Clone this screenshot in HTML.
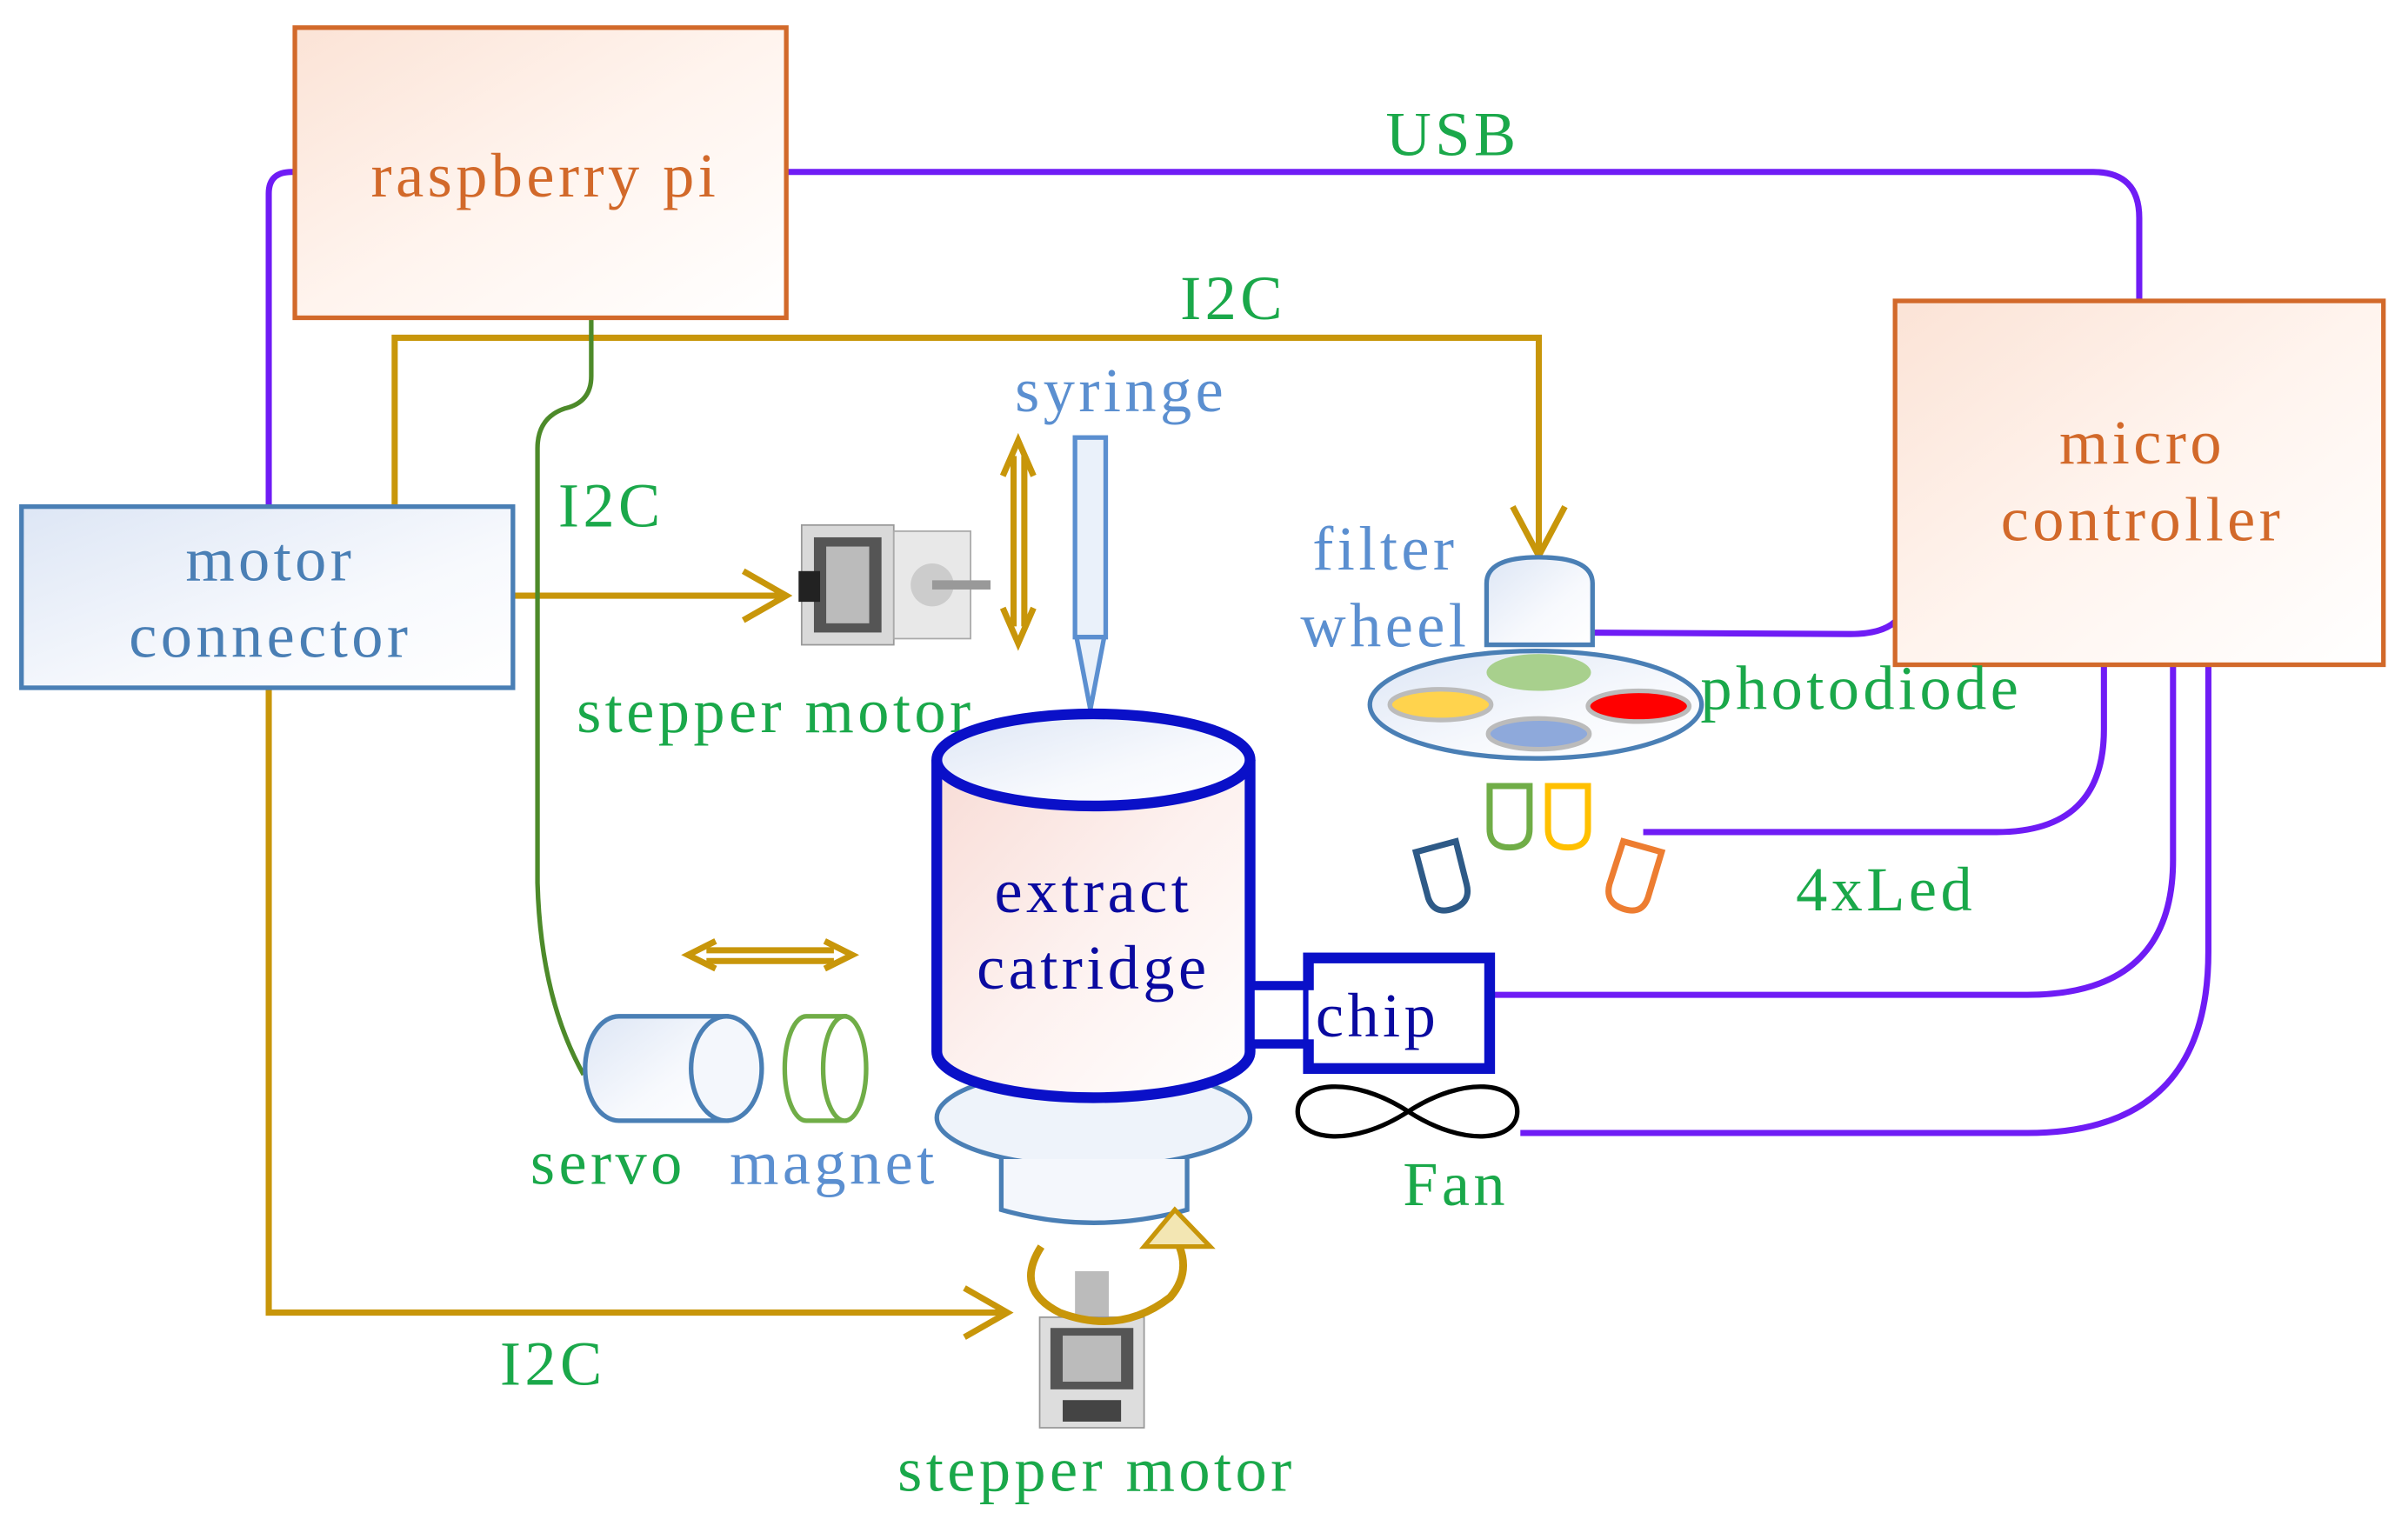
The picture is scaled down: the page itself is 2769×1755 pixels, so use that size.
<!DOCTYPE html>
<html><head><meta charset="utf-8"><style>
html,body{margin:0;padding:0;background:#fff;}
svg{display:block;}
text{font-family:"Liberation Serif",serif;font-size:41px;letter-spacing:2.5px;text-anchor:middle;}
</style></head><body>
<svg width="2769" height="1755" viewBox="0 0 1568 994" preserveAspectRatio="none" xmlns="http://www.w3.org/2000/svg">
<defs>
<linearGradient id="go" x1="0" y1="0" x2="1" y2="1"><stop offset="0" stop-color="#fbe3d6"/><stop offset="0.5" stop-color="#fff4ee"/><stop offset="1" stop-color="#fff"/></linearGradient>
<linearGradient id="gb" x1="0" y1="0" x2="1" y2="1"><stop offset="0" stop-color="#dde6f5"/><stop offset="0.6" stop-color="#f7f9fd"/><stop offset="1" stop-color="#fff"/></linearGradient>
<linearGradient id="gc" x1="0" y1="0" x2="1" y2="1"><stop offset="0" stop-color="#f8dcd6"/><stop offset="0.5" stop-color="#fdf1ef"/><stop offset="1" stop-color="#fff"/></linearGradient>
</defs>
<rect width="1568" height="994" fill="#fff"/>
<g fill="none" stroke="#6f1cf5" stroke-width="4">
<path d="M175 330 V126 Q175 112 190 112 H192"/>
<path d="M512 112 H1363 Q1393 112 1393 142 V196"/>
<path d="M1234 405 Q1225 413 1205 413 L1022 412"/>
<path d="M1370 433 V475 Q1370 542 1300 542 H1070"/>
<path d="M1415 433 V560 Q1415 648 1320 648 H970"/>
<path d="M1438 433 V620 Q1438 738 1320 738 H990"/>
</g>
<g fill="none" stroke="#c8960a" stroke-width="4">
<path d="M257 330 V220 H1002 V360"/>
<path d="M985 330 L1002 362 L1019 330"/>
<path d="M334 388 H510"/>
<path d="M484 372 L512 388 L484 404"/>
<path d="M175 448 V855 H655"/>
<path d="M628 839 L656 855 L628 871"/>
<path d="M660 297 V408 M667 297 V408"/>
<path d="M653 310 L663 287 L673 310 M653 396 L663 419 L673 396"/>
<path d="M460 619 H543 M460 626 H543"/>
<path d="M466 613 L448 622 L466 631 M537 613 L555 622 L537 631"/>
</g>
<path d="M385 207 V245 Q385 262 368 266 Q350 272 350 292 V575 Q352 650 380 700" fill="none" stroke="#4d8a2a" stroke-width="3"/>
<rect x="192" y="18" width="320" height="189" fill="url(#go)" stroke="#d2692a" stroke-width="3"/>
<rect x="1234" y="196" width="318" height="237" fill="url(#go)" stroke="#d2692a" stroke-width="3"/>
<rect x="14" y="330" width="320" height="118" fill="url(#gb)" stroke="#4a7fb5" stroke-width="3"/>
<text x="355" y="128" fill="#d2692a">raspberry pi</text>
<text x="1395" y="302" fill="#d2692a">micro</text>
<text x="1395" y="352" fill="#d2692a">controller</text>
<text x="176" y="378" fill="#4a7fb5">motor</text>
<text x="176" y="428" fill="#4a7fb5">connector</text>
<g fill="#1aa84a">
<text x="946" y="101">USB</text>
<text x="803" y="208">I2C</text>
<text x="398" y="343">I2C</text>
<text x="360" y="902">I2C</text>
<text x="505" y="477">stepper motor</text>
<text x="714" y="971">stepper motor</text>
<text x="1212" y="462">photodiode</text>
<text x="1228" y="593">4xLed</text>
<text x="948" y="785">Fan</text>
<text x="396" y="771">servo</text>
</g>
<g fill="#5b8fd0">
<text x="730" y="268">syringe</text>
<text x="902" y="371">filter</text>
<text x="902" y="421">wheel</text>
<text x="543" y="771">magnet</text>
</g>
<g>
<rect x="522" y="342" width="60" height="78" fill="#d9d9d9" stroke="#999"/>
<rect x="530" y="350" width="44" height="62" fill="#555"/>
<rect x="538" y="356" width="28" height="50" fill="#bbb"/>
<rect x="520" y="372" width="14" height="20" fill="#222"/>
<rect x="582" y="346" width="50" height="70" fill="#e8e8e8" stroke="#aaa"/>
<circle cx="607" cy="381" r="14" fill="#ccc"/>
<rect x="607" y="378" width="38" height="6" fill="#999"/>
</g>
<rect x="700" y="285" width="20" height="130" fill="#eaf1fa" stroke="#5b8fd0" stroke-width="3"/>
<path d="M701 415 L710 462 L719 415 Z" fill="#eaf1fa" stroke="#5b8fd0" stroke-width="3"/>
<ellipse cx="712" cy="728" rx="102" ry="32" fill="#eef3fa" stroke="#4a7fb5" stroke-width="3"/>
<path d="M652 755 V788 Q712 805 773 788 V755" fill="#f4f7fc" stroke="#4a7fb5" stroke-width="3"/>
<path d="M610 495 V685 A102 30 0 0 0 814 685 V495" fill="url(#gc)" stroke="#0a10c8" stroke-width="7"/>
<ellipse cx="712" cy="495" rx="102" ry="30" fill="url(#gb)" stroke="#0a10c8" stroke-width="7"/>
<text x="712" y="594" fill="#0a0aa0">extract</text>
<text x="712" y="644" fill="#0a0aa0">catridge</text>
<rect x="814" y="642" width="42" height="38" fill="#fff" stroke="#0a10c8" stroke-width="6"/>
<rect x="852" y="624" width="118" height="72" fill="#fff" stroke="#0a10c8" stroke-width="7"/>
<rect x="852" y="645" width="8" height="32" fill="#fff"/>
<text x="897" y="675" fill="#0a0aa0">chip</text>
<path d="M917 724 C880 700 845 705 845 724 C845 743 880 748 917 724 C954 700 988 705 988 724 C988 743 954 748 917 724 Z" fill="none" stroke="#000" stroke-width="3"/>
<g>
<rect x="700" y="828" width="22" height="40" fill="#bbb"/>
<rect x="677" y="858" width="68" height="72" fill="#ddd" stroke="#999"/>
<rect x="684" y="865" width="54" height="40" fill="#555"/>
<rect x="692" y="870" width="38" height="30" fill="#bbb"/>
<rect x="692" y="912" width="38" height="14" fill="#444"/>
</g>
<path d="M678 812 Q660 840 690 855 Q730 870 762 845 Q775 830 768 812" fill="none" stroke="#c8960a" stroke-width="5"/>
<path d="M745 812 L765 788 L788 812 Z" fill="#f3e6b3" stroke="#c8960a" stroke-width="3"/>
<path d="M968 420 V380 Q968 363 1002 363 Q1037 363 1037 380 V420 Z" fill="url(#gb)" stroke="#4a7fb5" stroke-width="3"/>
<ellipse cx="1000" cy="459" rx="108" ry="35" fill="url(#gb)" stroke="#4a7fb5" stroke-width="3"/>
<ellipse cx="1002" cy="438" rx="34" ry="12" fill="#a8d08d"/>
<ellipse cx="938" cy="459" rx="33" ry="10" fill="#ffd34d" stroke="#bbb" stroke-width="3"/>
<ellipse cx="1067" cy="460" rx="33" ry="10" fill="#ff0000" stroke="#bbb" stroke-width="3"/>
<ellipse cx="1002" cy="478" rx="33" ry="10" fill="#8ea9db" stroke="#bbb" stroke-width="3"/>
<g fill="#fff" stroke-width="4">
<path d="M970 512 V540 Q970 552 983 552 Q996 552 996 540 V512 Z" stroke="#70ad47"/>
<path d="M1008 512 V540 Q1008 552 1021 552 Q1034 552 1034 540 V512 Z" stroke="#ffc000"/>
<path d="M922 555 L930 585 Q934 596 946 592 Q958 588 955 576 L948 548 Z" stroke="#2e5a87"/>
<path d="M1057 548 L1048 576 Q1045 588 1057 592 Q1069 596 1073 585 L1082 555 Z" stroke="#ed7d31"/>
</g>
<path d="M403 662 H473 V730 H403 A22 34 0 0 1 403 662 Z" fill="url(#gb)" stroke="#4a7fb5" stroke-width="3"/>
<ellipse cx="473" cy="696" rx="23" ry="34" fill="#f4f7fc" stroke="#4a7fb5" stroke-width="3"/>
<path d="M525 662 H550 V730 H525 A14 34 0 0 1 525 662 Z" fill="#fff" stroke="#70ad47" stroke-width="3"/>
<ellipse cx="550" cy="696" rx="14" ry="34" fill="#fff" stroke="#70ad47" stroke-width="3"/>
</svg>
</body></html>
